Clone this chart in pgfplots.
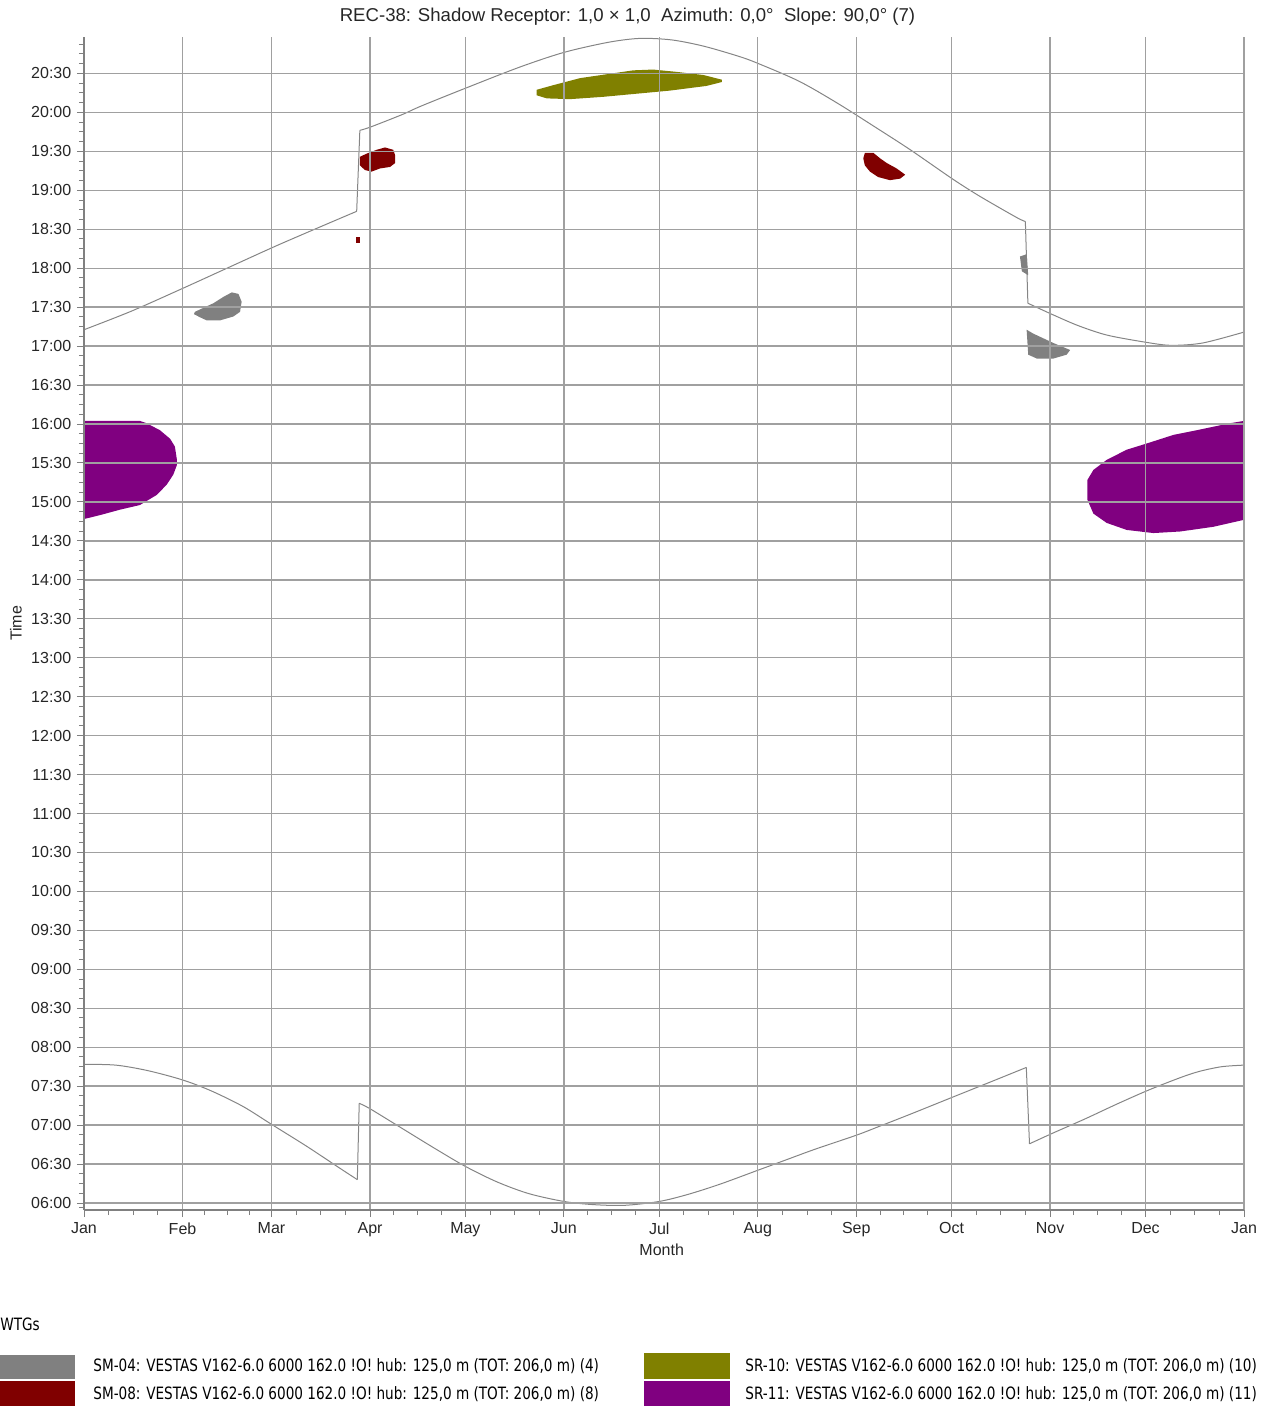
\documentclass[border=0pt]{standalone}
\usepackage{pgfplots}
\pgfplotsset{compat=1.18}
\usepackage{fontspec}
\setmainfont{Liberation Sans}
\newfontfamily\legfont[FakeStretch=0.8]{DejaVu Sans}
\definecolor{sgray}{HTML}{808080}
\definecolor{sred}{HTML}{800000}
\definecolor{solive}{HTML}{808000}
\definecolor{spurple}{HTML}{800080}
\definecolor{gridc}{HTML}{A0A0A0}
\definecolor{axc}{HTML}{808080}
\definecolor{sunc}{HTML}{858585}
\begin{document}
\fontsize{8}{9.6}\selectfont
\begin{tikzpicture}
\path[use as bounding box] (0pt,0pt) rectangle (632.5pt,-703pt);
\begin{axis}[
  at={(42pt,-605pt)}, anchor=south west,
  scale only axis, width=580pt, height=586.5pt,
  xmin=0, xmax=365, ymin=5.910, ymax=20.968,
  axis x line*=bottom, axis y line*=left,
  axis line style={axc, line width=0.6pt, -},
  axis on top,
  xtick={0,31,59,90,120,151,181,212,243,273,304,334,365},
  xticklabels={Jan,Feb,Mar,Apr,May,Jun,Jul,Aug,Sep,Oct,Nov,Dec,Jan},
  minor xtick={7.75,15.5,23.25,38,45,52,66.75,74.5,82.25,97.5,105,112.5,127.75,135.5,143.25,158.5,166,173.5,188.75,196.5,204.25,219.75,227.5,235.25,250.5,258,265.5,280.75,288.5,296.25,311.5,319,326.5,341.75,349.5,357.25},
  ytick={6,6.5,7,7.5,8,8.5,9,9.5,10,10.5,11,11.5,12,12.5,13,13.5,14,14.5,15,15.5,16,16.5,17,17.5,18,18.5,19,19.5,20,20.5},
  yticklabels={06:00,06:30,07:00,07:30,08:00,08:30,09:00,09:30,10:00,10:30,11:00,11:30,12:00,12:30,13:00,13:30,14:00,14:30,15:00,15:30,16:00,16:30,17:00,17:30,18:00,18:30,19:00,19:30,20:00,20:30},
  minor ytick={5.9375,6.125,6.25,6.375,6.625,6.75,6.875,7.125,7.25,7.375,7.625,7.75,7.875,8.125,8.25,8.375,8.625,8.75,8.875,9.125,9.25,9.375,9.625,9.75,9.875,10.125,10.25,10.375,10.625,10.75,10.875,11.125,11.25,11.375,11.625,11.75,11.875,12.125,12.25,12.375,12.625,12.75,12.875,13.125,13.25,13.375,13.625,13.75,13.875,14.125,14.25,14.375,14.625,14.75,14.875,15.125,15.25,15.375,15.625,15.75,15.875,16.125,16.25,16.375,16.625,16.75,16.875,17.125,17.25,17.375,17.625,17.75,17.875,18.125,18.25,18.375,18.625,18.75,18.875,19.125,19.25,19.375,19.625,19.75,19.875,20.125,20.25,20.375,20.625,20.75,20.875},
  tick align=outside,
  major tick length=3.5pt, minor tick length=2.5pt,
  tick style={axc, line width=0.5pt},
  grid=major,
  major grid style={gridc, line width=0.7pt},
  tick label style={font=\fontsize{8}{9.6}\selectfont, text=black!85},
  label style={font=\fontsize{8}{9.6}\selectfont, text=black!85},
  xlabel={Month}, ylabel={Time},
  xlabel style={at={(axis description cs:0.498,-0.0341)}, anchor=center},
  ylabel style={at={(axis description cs:-0.0586,0.5)}, anchor=center},
  sun/.style={sunc, line width=0.5pt},
]
% sunset
\addplot[sun, smooth] coordinates {
(0,17.21) (15,17.45) (31,17.74) (45,18.0) (59,18.26) (68,18.42) (80.6,18.64) (85.8,18.73)};
\addplot[sun] coordinates {(85.8,18.73) (86.8,19.77)};
\addplot[sun, smooth] coordinates {
(86.8,19.77) (90,19.81) (100,19.97) (106,20.08) (120,20.31) (137,20.58) (151,20.77) (165,20.90)
(175,20.95) (185,20.93) (195,20.85) (206,20.72) (212,20.63) (225,20.40) (237,20.12) (249,19.81)
(260,19.52) (273.5,19.14) (282,18.92) (293.5,18.65) (296.2,18.60)};
\addplot[sun] coordinates {(296.2,18.60) (297,17.55)};
\addplot[sun, smooth] coordinates {
(297,17.55) (305,17.40) (313,17.26) (322,17.14) (334,17.05) (342,17.01) (352,17.04) (365,17.18)};
% sunrise
\addplot[sun, smooth] coordinates {
(0,7.78) (10,7.77) (20,7.70) (31,7.58) (40,7.44) (50,7.24) (59,7.01) (70,6.73) (80,6.46) (86,6.30)};
\addplot[sun] coordinates {(86,6.30) (86.6,7.28)};
\addplot[sun, smooth] coordinates {
(86.6,7.28) (90,7.21) (100,6.96) (110,6.71) (120,6.47) (130,6.27) (140,6.12) (151,6.02) (160,5.98)
(170,5.97) (181,6.02) (190,6.11) (200,6.24) (212,6.42) (220,6.54) (230,6.69) (243,6.87) (250,6.98)
(260,7.14) (274,7.37) (285,7.55) (296.5,7.74)};
\addplot[sun] coordinates {(296.5,7.74) (297.5,6.76)};
\addplot[sun, smooth] coordinates {
(297.5,6.76) (305,6.90) (315,7.08) (325,7.27) (335,7.45) (345,7.61) (351,7.69) (358,7.75) (365,7.77)};
% SM-04 (gray)
\addplot[fill=sgray, draw=none] coordinates {
(34.9,17.44) (37.5,17.49) (40.7,17.55) (43.8,17.63) (46.5,17.69) (48.6,17.67) (49.6,17.57)
(49.1,17.44) (47.0,17.38) (42.8,17.33) (38.6,17.33) (36.5,17.37) (34.6,17.41)} --cycle;
\addplot[fill=sgray, draw=none] coordinates {
(294.5,18.15) (296.6,18.18) (297.1,17.91) (295.1,17.96)} --cycle;
\addplot[fill=sgray, draw=none] coordinates {
(296.6,17.21) (298.7,17.16) (305.0,17.04) (310.3,16.95) (309.2,16.89) (305.0,16.84) (299.8,16.84) (297.1,16.89)} --cycle;
% SM-08 (dark red)
\addplot[fill=sred, draw=none] coordinates {
(86.8,19.43) (88.9,19.47) (92.1,19.52) (94.7,19.55) (97.3,19.52) (97.9,19.45) (97.9,19.35)
(96.3,19.30) (93.1,19.28) (90.5,19.24) (88.4,19.26) (86.8,19.32)} --cycle;
\addplot[fill=sred, draw=none] coordinates {
(85.5,18.32) (86.8,18.32) (86.8,18.40) (85.5,18.40)} --cycle;
\addplot[fill=sred, draw=none] coordinates {
(245.7,19.48) (248.4,19.48) (250.5,19.41) (252.6,19.35) (255.7,19.28) (258.4,19.20) (256.8,19.15)
(253.6,19.13) (249.9,19.17) (247.3,19.24) (245.7,19.32) (245.2,19.41)} --cycle;
% SR-10 (olive)
\addplot[fill=solive, draw=none] coordinates {
(142.4,20.29) (147.7,20.35) (156.1,20.44) (164.5,20.49) (172.8,20.54) (179.1,20.55) (186.5,20.52)
(194.9,20.48) (200.7,20.42) (200.7,20.39) (195.9,20.34) (184.4,20.28) (173.9,20.24) (163.4,20.20)
(152.9,20.17) (145.6,20.18) (142.4,20.22)} --cycle;
% SR-11 (purple)
\addplot[fill=spurple, draw=none] coordinates {
(0,16.04) (17.6,16.04) (19.7,16.01) (23.9,15.92) (27.1,15.81) (28.6,15.71) (29.2,15.55) (29.2,15.47) (28.1,15.35)
(26.0,15.22) (22.9,15.09) (17.6,14.96) (11.3,14.90) (5.0,14.83) (0,14.78)} --cycle;
\addplot[fill=spurple, draw=none] coordinates {
(365,16.04) (360.6,16.01) (350.1,15.92) (342.8,15.86) (334.4,15.75) (328.1,15.67) (321.8,15.54)
(317.6,15.41) (315.7,15.28) (315.7,15.03) (317.6,14.85) (321.8,14.73) (328.1,14.64) (336.5,14.60)
(344.9,14.62) (355.3,14.68) (365,14.77)} --cycle;
\end{axis}
% title
\node[anchor=center, inner sep=0pt, text=black!85, font=\fontsize{9.3}{11}\selectfont] at (313.75pt,-8.5pt)
  {REC-38: Shadow Receptor: 1,0 × 1,0\ \ Azimuth: 0,0°\ \ Slope: 90,0° (7)};
% legend
\node[anchor=west, inner sep=0pt, font=\legfont\fontsize{8.5}{10}\selectfont] at (0pt,-662pt) {WTGs};
\fill[sgray] (-5pt,-677.5pt) rectangle (37.5pt,-689.5pt);
\fill[sred] (-5pt,-690.5pt) rectangle (37.5pt,-706pt);
\fill[solive] (322pt,-676.5pt) rectangle (365pt,-689.5pt);
\fill[spurple] (322pt,-690.5pt) rectangle (365pt,-706pt);
\node[anchor=west, inner sep=0pt, font=\legfont\fontsize{8.5}{10}\selectfont] at (46.5pt,-683pt)
  {SM-04: VESTAS V162-6.0 6000 162.0 !O! hub: 125,0 m (TOT: 206,0 m) (4)};
\node[anchor=west, inner sep=0pt, font=\legfont\fontsize{8.5}{10}\selectfont] at (46.5pt,-697pt)
  {SM-08: VESTAS V162-6.0 6000 162.0 !O! hub: 125,0 m (TOT: 206,0 m) (8)};
\node[anchor=west, inner sep=0pt, font=\legfont\fontsize{8.5}{10}\selectfont] at (372.5pt,-683pt)
  {SR-10: VESTAS V162-6.0 6000 162.0 !O! hub: 125,0 m (TOT: 206,0 m) (10)};
\node[anchor=west, inner sep=0pt, font=\legfont\fontsize{8.5}{10}\selectfont] at (372.5pt,-697pt)
  {SR-11: VESTAS V162-6.0 6000 162.0 !O! hub: 125,0 m (TOT: 206,0 m) (11)};
\end{tikzpicture}
\end{document}
